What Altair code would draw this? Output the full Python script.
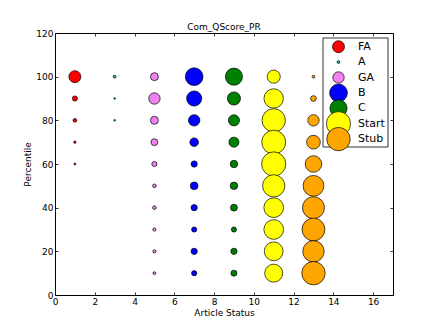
import altair as alt
import pandas as pd

# ---- data ----
series = ["FA", "A", "GA", "B", "C", "Start", "Stub"]
status = [1, 3, 5, 7, 9, 11, 13]
colors = ["#ff0000", "#00bfbf", "#ee82ee", "#0000ff", "#008000", "#ffff00", "#ffa500"]

percentiles = [100, 90, 80, 70, 60, 50, 40, 30, 20, 10]

# marker sizes (matplotlib "s" values, points^2) per percentile
s_FA = [342, 63, 32, 13, 9]
s_A = [19, 7, 7]
s_GA = [151, 309, 151, 112, 63, 32, 32, 24, 24, 19]
s_B = [748, 547, 309, 175, 93, 141, 93, 63, 93, 63]
s_C = [698, 409, 295, 239, 132, 132, 112, 63, 93, 86]
s_Start = [409, 899, 1301, 1368, 1398, 1180, 923, 923, 845, 770]
s_Stub = [19, 78, 309, 447, 650, 1031, 1153, 1244, 1091, 1301]

x_ticks = [0, 2, 4, 6, 8, 10, 12, 14, 16]
y_ticks = [0, 20, 40, 60, 80, 100, 120]

sizes = [s_FA, s_A, s_GA, s_B, s_C, s_Start, s_Stub]

rows = []
for name, xs, ss in zip(series, status, sizes):
    for p, s in zip(percentiles, ss):
        rows.append({"series": name, "status": xs, "pct": p, "s": s})
df = pd.DataFrame(rows)

W, H = 338, 262
FONT = "DejaVu Sans"

xscale = alt.Scale(domain=[0, 17], nice=False, zero=False)
yscale = alt.Scale(domain=[0, 120], nice=False, zero=False)
sscale = alt.Scale(type="linear", domain=[0, 1000], range=[0, 420], zero=True)
cscale = alt.Scale(domain=series, range=colors)

x_axis = alt.Axis(orient="bottom", values=x_ticks, offset=-3, tickSize=3, domain=False,
                  grid=False, labelPadding=2, title="Article Status", titlePadding=2,
                  tickColor="black", tickWidth=0.8, labelFlush=False)
y_axis = alt.Axis(orient="left", values=y_ticks, offset=-3, tickSize=3, domain=False,
                  grid=False, labelPadding=2, title="Percentile", titlePadding=3,
                  tickColor="black", tickWidth=0.8, labelFlush=False)
x_top = alt.Axis(orient="top", values=x_ticks, offset=-3, tickSize=3, domain=False,
                 grid=False, labels=False, title=None, tickColor="black", tickWidth=0.8)
y_right = alt.Axis(orient="right", values=y_ticks, offset=-3, tickSize=3, domain=False,
                   grid=False, labels=False, title=None, tickColor="black", tickWidth=0.8)

points = alt.Chart(df).mark_circle(opacity=1, stroke="black", strokeWidth=0.7).encode(
    x=alt.X("status:Q", scale=xscale, axis=x_axis),
    y=alt.Y("pct:Q", scale=yscale, axis=y_axis),
    size=alt.Size("s:Q", scale=sscale, legend=None),
    color=alt.Color("series:N", scale=cscale, legend=None),
    order=alt.Order("idx:Q"),
).transform_calculate(idx="datum.status * 1000 - datum.pct")

ticks2 = alt.Chart(df).mark_point(opacity=0).encode(
    x=alt.X("status:Q", scale=xscale, axis=x_top),
    y=alt.Y("pct:Q", scale=yscale, axis=y_right),
)

# ---- legend (drawn inside the plot, upper right) ----
lg_left, lg_right, lg_top, lg_bottom = 268, 333, 5, 114
lg_sym_x, lg_txt_x, lg_y0, lg_dy = 283.5, 303, 13.7, 15.4

legend_box = alt.Chart(pd.DataFrame({"a": [0]})).mark_rect(
    fill="white", stroke="black", strokeWidth=0.8).encode(
    x=alt.value(lg_left), x2=alt.value(lg_right), y=alt.value(lg_top), y2=alt.value(lg_bottom))

layers = [points, ticks2, legend_box]
for i, (name, ss) in enumerate(zip(series, sizes)):
    ldf = pd.DataFrame({"series": [name], "s": [max(ss)]})
    py = lg_y0 + i * lg_dy
    layers.append(alt.Chart(ldf).mark_circle(opacity=1, stroke="black", strokeWidth=0.7).encode(
        x=alt.value(lg_sym_x), y=alt.value(py),
        size=alt.Size("s:Q", scale=sscale, legend=None),
        color=alt.Color("series:N", scale=cscale, legend=None)))
    layers.append(alt.Chart(ldf).mark_text(align="left", baseline="middle", font=FONT,
                                           fontSize=11, color="black", dx=0).encode(
        x=alt.value(lg_txt_x), y=alt.value(py), text=alt.Text("series:N")))

chart = alt.layer(*layers).resolve_axis(x="independent", y="independent").properties(
    width=W, height=H,
    title=alt.TitleParams("Com_QScore_PR", fontSize=9, font=FONT, fontWeight="normal",
                          anchor="middle", offset=-3, color="black"),
    autosize=alt.AutoSizeParams(type="none"),
    padding={"left": 47, "top": 25, "right": 35, "bottom": 26},
).configure_view(stroke="black", strokeWidth=1).configure_axis(
    labelFont=FONT, titleFont=FONT, labelFontSize=9, titleFontSize=9,
    titleFontWeight="normal", labelColor="black", titleColor="black"
)

chart.save("out.html", embed_options={"renderer": "svg", "actions": False})
